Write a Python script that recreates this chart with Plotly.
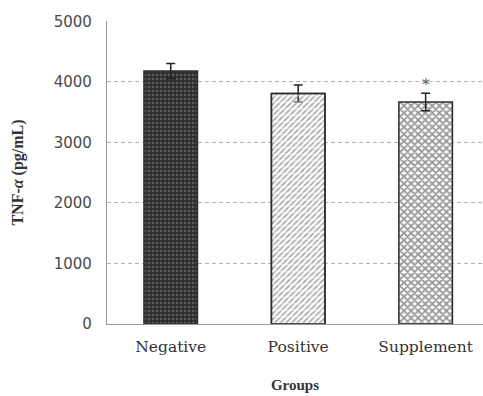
import plotly.graph_objects as go

groups = ["Negative", "Positive", "Supplement"]
tnf_values = [4180, 3810, 3670]
tnf_errors = [125, 140, 145]
y_ticks = [0, 1000, 2000, 3000, 4000, 5000]

fig = go.Figure()

patterns = [
    dict(shape=".", fgcolor="#8a8a8a", bgcolor="#2e2e2e", size=4, solidity=0.35),
    dict(shape="/", fgcolor="#505050", bgcolor="#ffffff", size=4, solidity=0.45),
    dict(shape="x", fgcolor="#333333", bgcolor="#ffffff", size=5, solidity=0.6),
]

for i, g in enumerate(groups):
    fig.add_trace(go.Bar(
        x=[g], y=[tnf_values[i]],
        width=0.42,
        marker=dict(color="#ffffff", pattern=patterns[i],
                    line=dict(color="#2b2b2b", width=1.5)),
        error_y=dict(type="data", array=[tnf_errors[i]], visible=True,
                     color="#222222", thickness=1.5, width=4.5),
        showlegend=False,
    ))

# white horizontal breaks that split the diagonal hatch of "Positive" into rows
fig.add_trace(go.Bar(
    x=[groups[1]], y=[tnf_values[1]],
    width=0.42,
    marker=dict(color="rgba(0,0,0,0)",
                pattern=dict(shape="-", fgcolor="#ffffff", bgcolor="rgba(0,0,0,0)",
                             size=6.5, solidity=0.3),
                line=dict(color="#2b2b2b", width=1.5)),
    showlegend=False, hoverinfo="skip",
))

# significance mark above the supplement group
fig.add_annotation(x=groups[2], y=tnf_values[2] + tnf_errors[2], text="*",
                   showarrow=False, yanchor="bottom", yshift=-3,
                   font=dict(family="DejaVu Sans", size=16, color="#5a5a5a"))

fig.update_layout(
    width=483, height=396,
    margin=dict(l=107, r=0, t=21, b=72),
    plot_bgcolor="white", paper_bgcolor="white",
    barmode="overlay",
)
fig.update_xaxes(
    range=[-0.5, 2.45],
    showline=True, linecolor="#9a9a9a", linewidth=1.2,
    ticks="", showgrid=False, ticklabelstandoff=8,
    tickfont=dict(family="DejaVu Serif", size=15.5, color="#333333"),
    title=dict(text="<b>Groups</b>", standoff=24,
               font=dict(family="Liberation Serif", size=15, color="#333333")),
)
fig.update_yaxes(
    range=[0, 5008], tickvals=y_ticks,
    showline=True, linecolor="#9a9a9a", linewidth=1.2,
    showgrid=True, gridcolor="#b0b0b0", griddash="4px,3px", gridwidth=1,
    zeroline=False, ticks="", ticklabelstandoff=11,
    tickfont=dict(family="DejaVu Sans", size=15, color="#4a4a4a"),
    title=dict(text="<b>TNF-<i>α</i> (pg/mL)</b>", standoff=26,
               font=dict(family="Liberation Serif", size=16, color="#333333")),
)

fig.write_html("out.html")
